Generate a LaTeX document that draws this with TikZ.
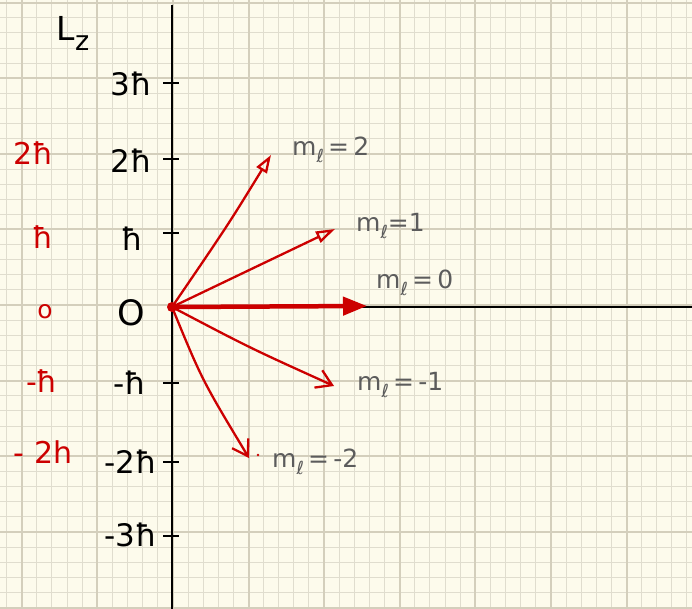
\documentclass[tikz,border=0pt]{standalone}
\usepackage{fontspec}
\setmainfont{DejaVu Sans}
\usetikzlibrary{arrows.meta}
\definecolor{paper}{RGB}{253,251,236}
\definecolor{gminor}{RGB}{224,221,206}
\definecolor{gmajor}{RGB}{212,207,188}
\definecolor{pen}{RGB}{204,0,0}
\definecolor{pencil}{RGB}{92,92,92}
\newcommand{\mell}{m\raisebox{-0.3em}{\fontsize{18}{18}\selectfont ℓ}}
\begin{document}
\begin{tikzpicture}[x=1pt,y=-1pt,
  minorgrid/.style={gminor, line width=1pt},
  majorgrid/.style={gmajor, line width=2pt},
  axisline/.style={black, line width=2.2pt},
  tickmark/.style={black, line width=1.8pt},
  blk/.style={black, font=\fontsize{31}{34}\selectfont, inner sep=0pt},
  redlbl/.style={pen, font=\fontsize{30}{34}\selectfont, inner sep=0pt},
  mlbl/.style={pencil, font=\fontsize{25}{28}\selectfont, inner sep=0pt, anchor=west},
  vec/.style={pen, line width=2.3pt, line cap=round},
]
\useasboundingbox (0,0) rectangle (692,609);
\fill[paper] (0,0) rectangle (692,609);
% grid
\foreach \i in {-11,...,34} \draw[minorgrid] ({172.9+15.12*\i},0) -- ({172.9+15.12*\i},609);
\foreach \j in {-20,...,20} \draw[minorgrid] (0,{305.1+15.12*\j}) -- (692,{305.1+15.12*\j});
\foreach \i in {-2,...,6} \draw[majorgrid] ({172.9+75.6*\i},0) -- ({172.9+75.6*\i},609);
\foreach \j in {-4,...,4} \draw[majorgrid] (0,{305.1+75.6*\j}) -- (692,{305.1+75.6*\j});
% axes
\coordinate (top) at (172,5);
\coordinate (bot) at (172,609);
\coordinate (O) at (172,307);
\coordinate (right) at (692,307);
\draw[axisline] (top) -- (bot);
\draw[axisline] (O) -- (right);
% ticks
\foreach \y/\n in {83/t3,159/t2,233/t1,383/tm1,462/tm2,536/tm3}
  \draw[tickmark] (163,\y) coordinate (\n) -- (179,\y);
% black labels
\node[blk, font=\fontsize{33}{36}\selectfont] (lz) at (73,33) {L\raisebox{-10pt}{\fontsize{27}{27}\selectfont z}};
\node[blk] (l3) at (131,84) {3ħ};
\node[blk] (l2) at (131,161) {2ħ};
\node[blk] (l1) at (132,239) {ħ};
\node[blk, font=\fontsize{35}{38}\selectfont] (l0) at (131,313) {O};
\node[blk] (lm1) at (130,383) {-ħ};
\node[blk] (lm2) at (131,462) {-2ħ};
\node[blk] (lm3) at (131,535) {-3ħ};
% red labels
\node[redlbl] (r2) at (33,153) {2ħ};
\node[redlbl] (r1) at (43,237) {ħ};
\node[redlbl, font=\fontsize{25}{28}\selectfont] (r0) at (45,312) {o};
\node[redlbl] (rm1) at (42,381) {-ħ};
\node[redlbl] (rm2) at (43,452) {- 2h};
% vectors
\coordinate (e2) at (271,155);
\coordinate (e1) at (335,229);
\coordinate (e0) at (367,306);
\coordinate (em1) at (334,386);
\coordinate (em2) at (249,458);
\draw[vec, -{Triangle[open,length=18pt,width=12pt,line width=2.3pt]}] (O) .. controls (228,225) .. (e2);
\draw[vec, -{Triangle[open,length=19pt,width=12pt,line width=2.3pt]}] (O) -- (e1);
\draw[pen, line width=4.5pt, -{Triangle[length=24pt,width=18pt]}] (O) -- (e0);
\draw[vec, -{Straight Barb[length=15pt,width=19pt,line width=2.3pt]}] (O) .. controls (250,348) .. (em1);
\draw[vec, -{Straight Barb[length=15pt,width=19pt,line width=2.3pt]}] (O) .. controls (202,380) .. (em2);
\fill[pen] (O) circle (5);
\fill[pen] (258,455) circle (1.3);
% m labels
\node[mlbl] (m2) at (292,150) {\mell\,=\,2};
\node[mlbl] (m1) at (356,226) {\mell=1};
\node[mlbl] (m0) at (376,283) {\mell\,=\,0};
\node[mlbl] (mm1) at (357,385) {\mell\,=\,-1};
\node[mlbl] (mm2) at (272,462) {\mell\,=\,-2};
\end{tikzpicture}
\end{document}
